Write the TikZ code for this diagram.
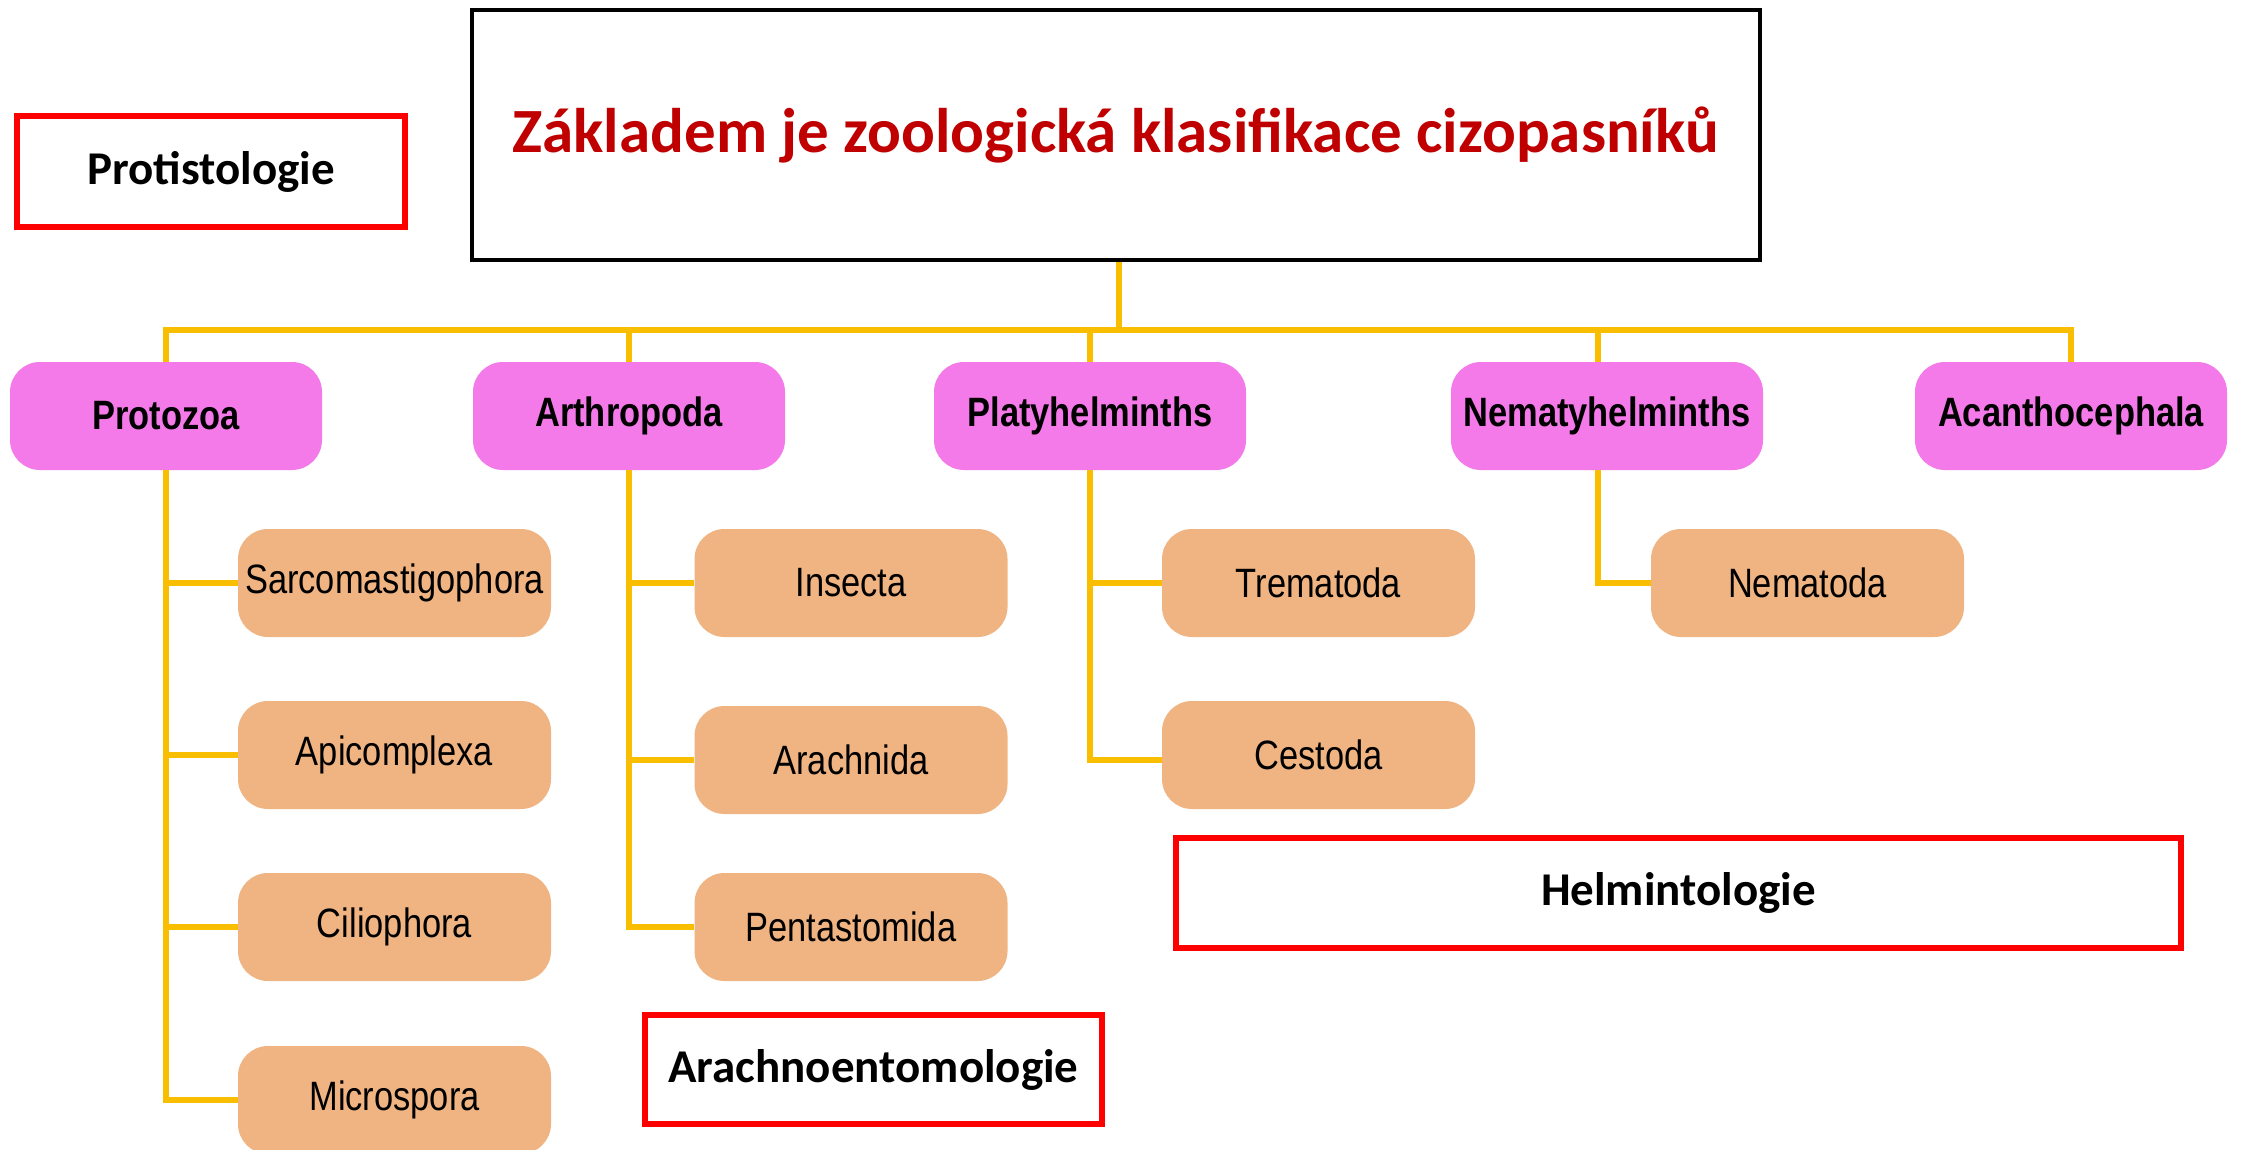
\documentclass[tikz,border=0pt]{standalone}
\usepackage{fontspec}
\setmainfont{Carlito}
\newfontfamily\narrowfont[FakeStretch=0.84]{Liberation Sans}
\definecolor{magC}{RGB}{245,122,233}
\definecolor{orC}{RGB}{240,180,130}
\definecolor{yelC}{RGB}{250,190,0}
\definecolor{redC}{RGB}{255,0,0}
\definecolor{titC}{RGB}{192,0,0}
\tikzset{
  levelone/.style={fill=magC, rounded corners=15pt, minimum width=156pt, minimum height=54pt, inner sep=0pt, font=\narrowfont\bfseries\fontsize{20.5pt}{24pt}\selectfont},
  leveltwo/.style={fill=orC, rounded corners=15pt, minimum width=156.5pt, minimum height=54pt, inner sep=0pt, font=\narrowfont\fontsize{20.5pt}{24pt}\selectfont},
  redbox/.style={draw=redC, line width=3pt, fill=white, inner sep=0pt, font=\bfseries\fontsize{23.5pt}{28pt}\selectfont},
  conn/.style={draw=yelC, line width=2.7pt}
}
\begin{document}
\begin{tikzpicture}[x=0.5pt,y=-0.5pt]
\useasboundingbox[fill=white] (0,0) rectangle (2242,1150);
% title
\node[draw=black, line width=1.6pt, minimum width=644pt, minimum height=125pt, inner sep=0pt, text=titC, font=\bfseries\fontsize{31.5pt}{36pt}\selectfont] (title) at (1116,135) {Základem je zoologická klasifikace cizopasníků};
% red label boxes
\node[redbox, minimum width=194pt, minimum height=55.5pt] (prot) at (211,171.5) {Protistologie};
\node[redbox, minimum width=228.5pt, minimum height=54.5pt] (arent) at (873.5,1069.5) {Arachnoentomologie};
\node[redbox, minimum width=502.5pt, minimum height=55pt] (helm) at (1678.5,893) {Helmintologie};
% level one
\node[levelone] (protozoa) at (166,416) {Protozoa};
\node[levelone] (arthro) at (629,416) {Arthropoda};
\node[levelone] (platy) at (1090,416) {Platyhelminths};
\node[levelone] (nemat) at (1607,416) {Nematyhelminths};
\node[levelone] (acanth) at (2071,416) {Acanthocephala};
% level two
\node[leveltwo] (sarco) at (394.5,583) {Sarcomastigophora};
\node[leveltwo] (apico) at (394.5,755) {Apicomplexa};
\node[leveltwo] (cilio) at (394.5,927) {Ciliophora};
\node[leveltwo] (micro) at (394.5,1100) {Microspora};
\node[leveltwo] (insecta) at (851,583) {Insecta};
\node[leveltwo] (arachn) at (851,760) {Arachnida};
\node[leveltwo] (penta) at (851,927) {Pentastomida};
\node[leveltwo] (trema) at (1318.5,583) {Trematoda};
\node[leveltwo] (cesto) at (1318.5,755) {Cestoda};
\node[leveltwo] (nemato) at (1807.5,583) {Nematoda};
% bus
\coordinate (bus) at (1119,330);
\coordinate (nemtop) at (1598,362);
\coordinate (nembot) at (1598,470);
\draw[conn] (title.south -| bus) -- (bus);
\draw[conn] (protozoa.north) |- (bus) -| (acanth.north);
\draw[conn] (arthro.north) -- (arthro.north |- bus);
\draw[conn] (platy.north) -- (platy.north |- bus);
\draw[conn] (nemtop) -- (nemtop |- bus);
% protozoa branches
\draw[conn] (protozoa.south) |- (micro.west);
\draw[conn] (sarco.west) -- (sarco.west -| protozoa.south);
\draw[conn] (apico.west) -- (apico.west -| protozoa.south);
\draw[conn] (cilio.west) -- (cilio.west -| protozoa.south);
% arthropoda branches
\draw[conn] (arthro.south) |- (penta.west);
\draw[conn] (insecta.west) -- (insecta.west -| arthro.south);
\draw[conn] (arachn.west) -- (arachn.west -| arthro.south);
% platyhelminths branches
\draw[conn] (platy.south) |- ([yshift=-2.5pt]cesto.west);
\draw[conn] (trema.west) -- (trema.west -| platy.south);
% nematyhelminths branch
\draw[conn] (nembot) |- (nemato.west);
\end{tikzpicture}
\end{document}
